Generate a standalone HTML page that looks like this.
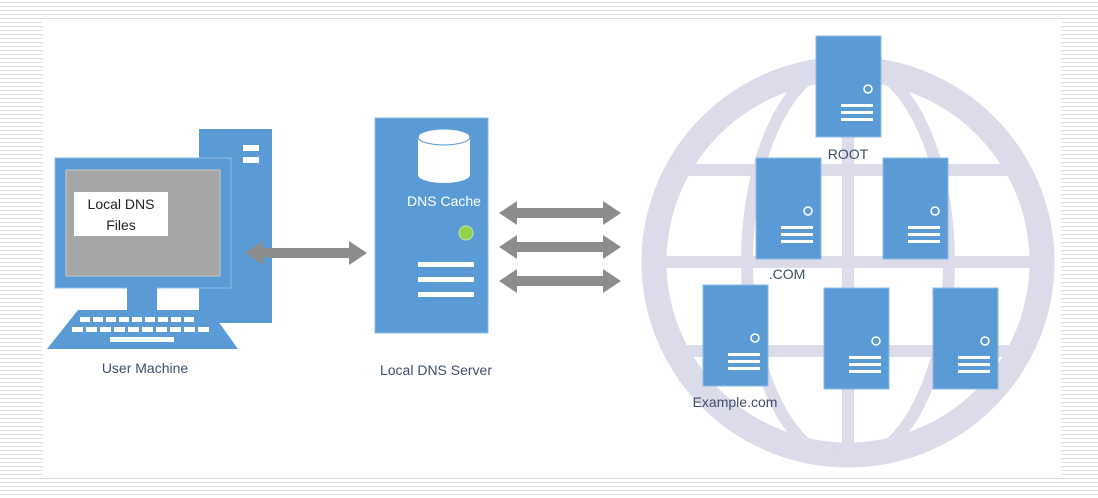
<!DOCTYPE html>
<html><head><meta charset="utf-8"><style>
html,body{margin:0;padding:0;}
body{width:1098px;height:498px;overflow:hidden;position:relative;
background:repeating-linear-gradient(to bottom,#fff 0px,#fff 2px,#dcdcdc 2px,#dcdcdc 3px,#fff 3px,#fff 4px);}
.inner{position:absolute;left:42px;top:22px;width:1020px;height:456px;background:#fff;}
svg{position:absolute;left:0;top:0;}
text{font-family:"Liberation Sans",sans-serif;}
</style></head><body>
<div class="inner"></div>
<svg width="1098" height="498" viewBox="0 0 1098 498">
<defs>
<clipPath id="gc"><ellipse cx="848" cy="262" rx="200" ry="199"/></clipPath>
<g id="srv">
<rect x="0" y="0" width="65" height="101" fill="#5b9bd5" stroke="#8cbbe6" stroke-width="1"/>
<circle cx="52" cy="53" r="4" fill="none" stroke="#fff" stroke-width="1.5"/>
<rect x="25" y="68" width="32" height="3" fill="#fff"/>
<rect x="25" y="75" width="32" height="3" fill="#fff"/>
<rect x="25" y="82" width="32" height="3" fill="#fff"/>
</g>
<g id="arr"><polygon points="0,0 18,-12 18,-5 104,-5 104,-12 122,0 104,12 104,5 18,5 18,12" fill="#8c8c8c"/></g>
</defs>
<!-- globe -->
<ellipse cx="848" cy="262" rx="194" ry="193" fill="none" stroke="#dcdbea" stroke-width="25"/>
<g clip-path="url(#gc)" fill="#dcdbea">
<rect x="842" y="50" width="12" height="420"/>
<rect x="640" y="164" width="420" height="12"/>
<rect x="640" y="256" width="420" height="12"/>
<rect x="640" y="345" width="420" height="12"/>
</g>
<ellipse cx="848" cy="262" rx="101" ry="200" fill="none" stroke="#dcdbea" stroke-width="12" clip-path="url(#gc)"/>
<use href="#srv" x="816" y="36"/>
<use href="#srv" x="756" y="158"/>
<use href="#srv" x="883" y="158"/>
<use href="#srv" x="703" y="285"/>
<use href="#srv" x="824" y="288"/>
<use href="#srv" x="933" y="288"/>
<text x="848" y="159" font-size="14" fill="#3d4f6b" text-anchor="middle">ROOT</text>
<text x="787" y="279" font-size="14" fill="#3d4f6b" text-anchor="middle">.COM</text>
<text x="735" y="407" font-size="14" fill="#3d4f6b" text-anchor="middle">Example.com</text>
<!-- user machine -->
<rect x="199" y="129" width="73" height="194" fill="#5b9bd5"/>
<rect x="243" y="145" width="16" height="6" fill="#fff"/>
<rect x="243" y="157" width="16" height="6" fill="#fff"/>
<rect x="55" y="158" width="176" height="130" fill="#5b9bd5" stroke="#8cbbe6"/>
<rect x="66" y="170" width="154" height="106" fill="#a6a6a6" stroke="#c8c8c8"/>
<rect x="74" y="192" width="94" height="44" fill="#fff"/>
<text x="121" y="209" font-size="14" fill="#222" text-anchor="middle">Local DNS</text>
<text x="121" y="230" font-size="14" fill="#222" text-anchor="middle">Files</text>
<rect x="127" y="287" width="30" height="23" fill="#5b9bd5"/>
<polygon points="78,310 210,310 238,349 47,349" fill="#5b9bd5"/>
<g fill="#fff">
<rect x="80" y="317" width="10" height="5"/><rect x="93" y="317" width="10" height="5"/><rect x="106" y="317" width="10" height="5"/><rect x="119" y="317" width="10" height="5"/><rect x="132" y="317" width="10" height="5"/><rect x="145" y="317" width="10" height="5"/><rect x="158" y="317" width="10" height="5"/><rect x="171" y="317" width="10" height="5"/><rect x="184" y="317" width="10" height="5"/>
<rect x="72" y="327" width="11" height="5"/><rect x="86" y="327" width="11" height="5"/><rect x="100" y="327" width="11" height="5"/><rect x="114" y="327" width="11" height="5"/><rect x="128" y="327" width="11" height="5"/><rect x="142" y="327" width="11" height="5"/><rect x="156" y="327" width="11" height="5"/><rect x="170" y="327" width="11" height="5"/><rect x="184" y="327" width="11" height="5"/><rect x="198" y="327" width="11" height="5"/>
<rect x="110" y="337" width="64" height="5"/>
</g>
<text x="145" y="373" font-size="14" fill="#3d4f6b" text-anchor="middle">User Machine</text>
<!-- arrows -->
<use href="#arr" x="245" y="253"/>
<use href="#arr" x="499" y="213"/>
<use href="#arr" x="499" y="247"/>
<use href="#arr" x="499" y="281"/>
<!-- local dns server -->
<rect x="375" y="118" width="113" height="215" fill="#5b9bd5" stroke="#8cbbe6"/>
<path d="M418,137 L418,175 A26,8 0 0 0 470,175 L470,137 Z" fill="#fff"/>
<ellipse cx="444" cy="137" rx="26" ry="8" fill="#fff" stroke="#5b9bd5" stroke-width="1"/>
<text x="444" y="206" font-size="14" fill="#fff" text-anchor="middle">DNS Cache</text>
<circle cx="466" cy="233" r="7" fill="#92d050" stroke="#c6e6a8"/>
<rect x="418" y="262" width="56" height="5" fill="#fff"/>
<rect x="418" y="277" width="56" height="5" fill="#fff"/>
<rect x="418" y="292" width="56" height="5" fill="#fff"/>
<text x="436" y="375" font-size="14" fill="#3d4f6b" text-anchor="middle">Local DNS Server</text>
</svg>
</body></html>
